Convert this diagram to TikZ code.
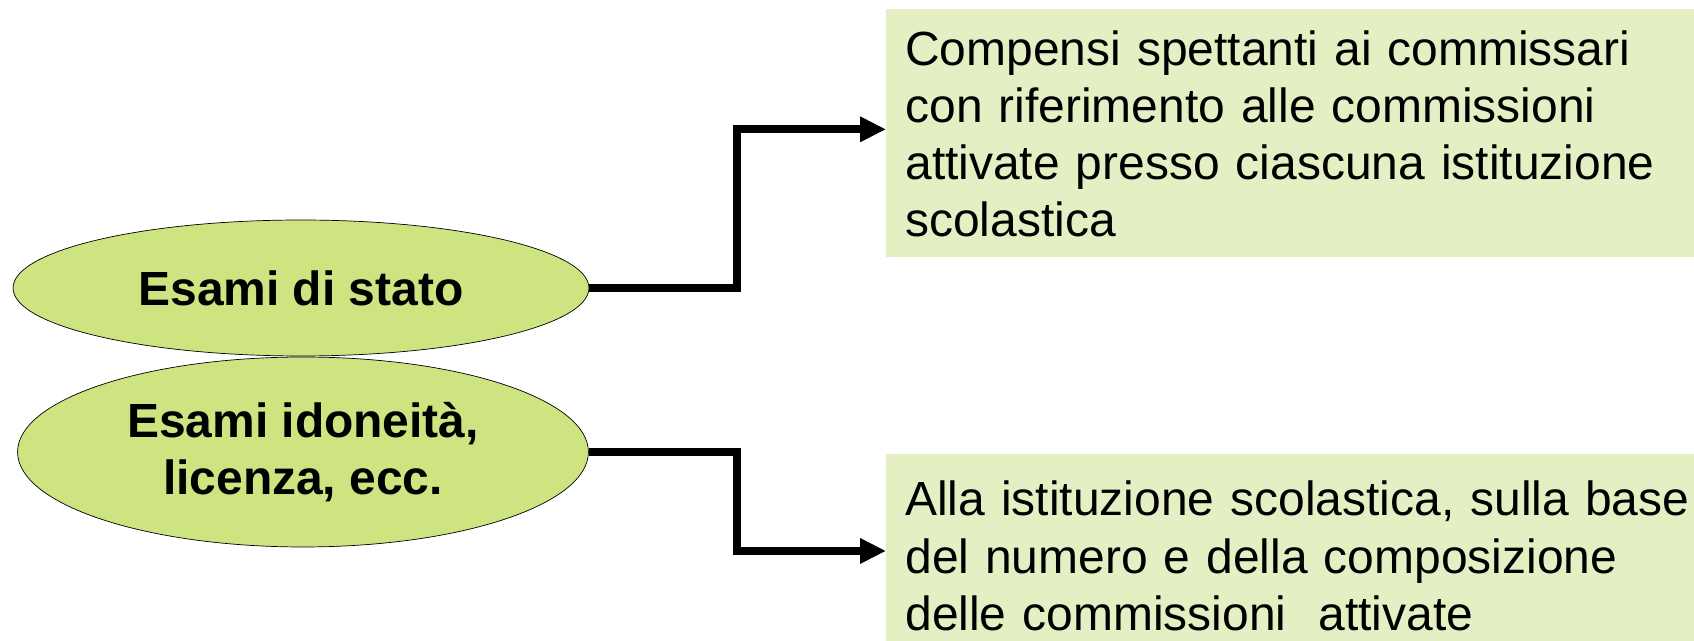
\documentclass[tikz,border=0pt]{standalone}
\usepackage{fontspec}
\setmainfont{Liberation Sans}
\usetikzlibrary{shapes.geometric,arrows.meta}

\definecolor{ovalgreen}{RGB}{205,228,128}
\definecolor{boxgreen}{RGB}{228,240,195}

\begin{document}
\begin{tikzpicture}[x=0.02cm,y=-0.02cm,
	oval/.style={shape=ellipse,draw=black,fill=ovalgreen,inner sep=0pt,align=center,font=\fontsize{27.3pt}{32.4pt}\selectfont\bfseries},
	note/.style={shape=rectangle,fill=boxgreen,anchor=north west,inner xsep=0.38cm,inner ysep=0pt,align=left,text width=15.8cm,font=\fontsize{27.3pt}{32.6pt}\selectfont},
	link/.style={line width=4.5pt,line join=miter,-{Triangle[length=0.52cm,width=0.48cm]}}]
	
	\useasboundingbox (0,0) rectangle (1694,641);
	
	\node[oval,minimum width=11.52cm,minimum height=2.72cm] (stato) at (301, 288) {Esami di stato};
	\node[oval,minimum width=11.42cm,minimum height=3.8cm] (idon) at (303, 452) {Esami idoneità,\\ licenza, ecc.};
	
	\node[note,minimum height=4.96cm] (compensi) at (886, 9) {\rule{0pt}{30pt}Compensi spettanti ai commissari\\ con riferimento alle commissioni\\ attivate presso ciascuna istituzione\\ scolastica\strut};
	\node[note,minimum height=3.74cm] (istituz) at (886, 454) {\rule{0pt}{35pt}Alla istituzione scolastica, sulla base\\ del numero e della composizione\\ delle commissioni\ \ attivate\strut};
	
	\draw[link] (stato.east) -- ++(148,0) |- ([yshift=0.08cm]compensi.west);
	\draw[link] (idon.east) -- ++(148,0) |- (istituz.west);
	
\end{tikzpicture}
\end{document}
